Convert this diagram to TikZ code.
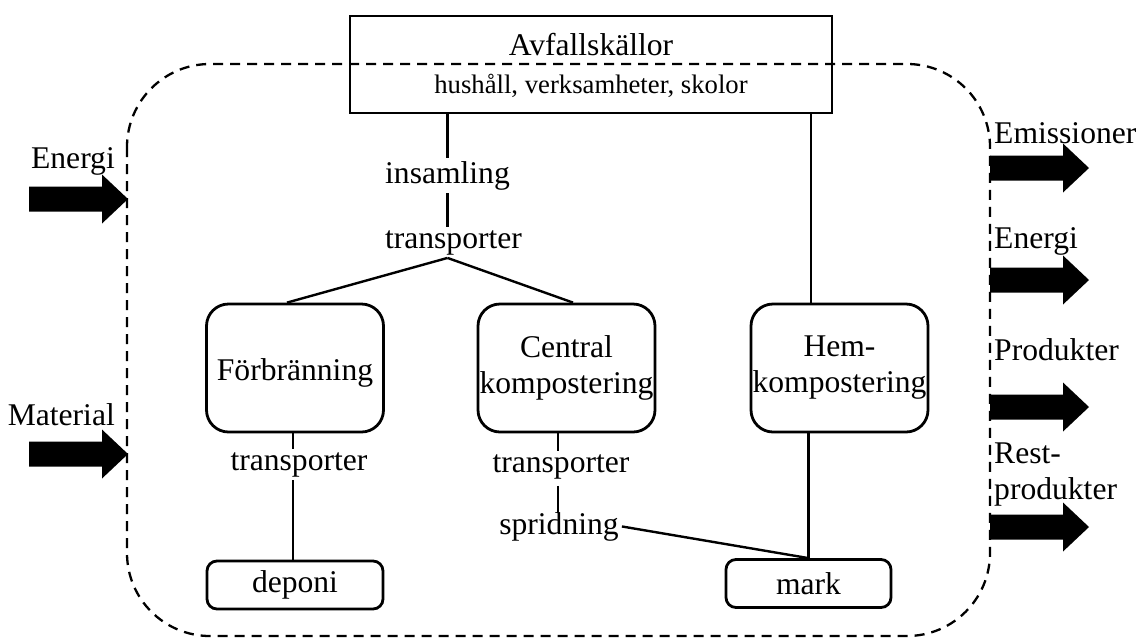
\documentclass[tikz,border=0pt]{standalone}
\usepackage{fontspec}
\setmainfont{Liberation Serif}
\begin{document}
\begin{tikzpicture}[x=1pt,y=-1pt,
  every node/.style={font=\fontsize{31.6}{36}\selectfont, inner sep=3pt},
  procbox/.style={draw, line width=2.8pt, rounded corners=22pt, minimum width=177pt, minimum height=128pt, inner sep=0pt, align=center},
  endbox/.style={draw, line width=2.8pt, rounded corners=10pt, minimum height=48pt, inner sep=0pt},
  conn/.style={line width=2.4pt},
  boundary/.style={line width=2.3pt, dash pattern=on 10pt off 7pt, rounded corners=83pt},
  fatarrow/.pic={\fill (0,-12.5) -- (73,-12.5) -- (73,-24.5) -- (99,0) -- (73,24.5) -- (73,12.5) -- (0,12.5) -- cycle;}]
\useasboundingbox (0,0) rectangle (1137,638);
% system boundary
\draw[boundary] (127,64) rectangle (990,636);
% source box
\node[draw, line width=2.8pt, minimum width=482pt, minimum height=97pt, inner sep=0pt] (src) at (591,64.5) {};
\node[anchor=base] (srct) at (591,55) {Avfallskällor};
\node[anchor=base, font=\fontsize{26.7}{30}\selectfont] (srcs) at (591,93) {hushåll, verksamheter, skolor};
% labels
\node[anchor=base] (ins) at (447.5,183) {insamling};
\node[anchor=base] (tr1) at (453.5,248) {transporter};
\node[anchor=base] (tr2) at (299,470) {transporter};
\node[anchor=base] (tr3) at (561,472) {transporter};
\node[anchor=base] (sp) at (559,534) {spridning};
% process boxes
\node[procbox, text height=26pt, text depth=2pt] (forb) at (295,368) {Förbränning};
\node[procbox] (cen) at (566.5,368) {Central\\kompostering};
\node[procbox] (hem) at (839.5,368) {Hem-\\kompostering};
\node[endbox, minimum width=176pt] (dep) at (295,585) {deponi};
\node[endbox, minimum width=165pt] (mark) at (808.5,583.5) {mark};
% connectors
\draw[conn] (ins |- src.south) -- (ins.north);
\draw[conn] (ins.south) -- (ins.south |- tr1.north);
\draw[conn] (ins.south |- tr1.south) -- ([xshift=-8pt]forb.north);
\draw[conn] (ins.south |- tr1.south) -- ([xshift=6.5pt]cen.north);
\draw[conn] ([xshift=-28.5pt]hem.north) -- ([xshift=-28.5pt]hem.north |- src.south);
\draw[conn] ([xshift=-2pt]forb.south) -- ([xshift=-2pt]forb.south |- tr2.north);
\draw[conn] ([xshift=-2pt]dep.north) -- ([xshift=-2pt]dep.north |- tr2.south);
\draw[conn] ([xshift=-8.5pt]cen.south) -- ([xshift=-8.5pt]cen.south |- tr3.north);
\draw[conn] ([xshift=-3pt,yshift=-4pt]tr3.south) -- ([xshift=-3pt,yshift=-4pt]tr3.south |- sp.north);
\draw[conn] (sp.east) -- (mark.north);
\draw[conn] (mark.north |- hem.south) -- (mark.north);
% inflows
\node[anchor=base east] (lin1) at (118,168) {Energi};
\node[anchor=base east] (lin2) at (118,425) {Material};
\pic at (29,199) {fatarrow};
\pic at (29,454) {fatarrow};
% outflows
\node[anchor=base west, inner sep=0pt] (out1) at (994,143) {Emissioner};
\node[anchor=base west, inner sep=0pt] (out2) at (994,248) {Energi};
\node[anchor=base west, inner sep=0pt] (out3) at (994,360) {Produkter};
\node[anchor=base west, inner sep=0pt, align=left] (out4) at (994,499) {Rest-\\produkter};
\pic at (990,168) {fatarrow};
\pic at (990,280) {fatarrow};
\pic at (990,407) {fatarrow};
\pic at (990,527) {fatarrow};
\end{tikzpicture}
\end{document}
